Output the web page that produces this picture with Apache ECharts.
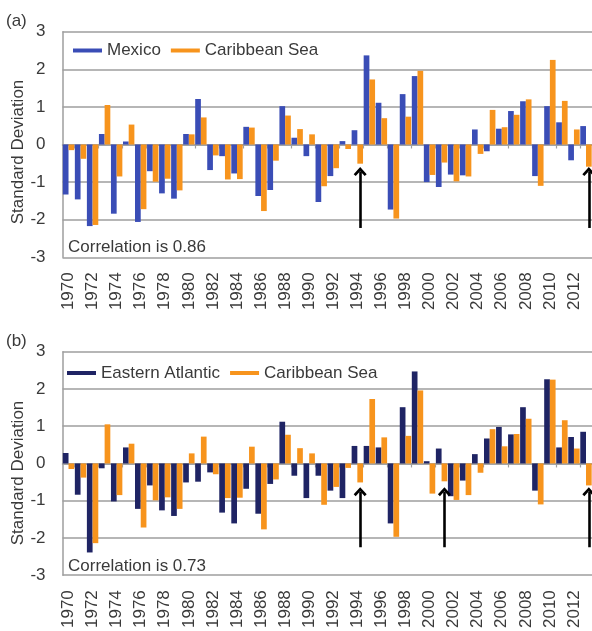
<!DOCTYPE html>
<html>
<head>
<meta charset="utf-8">
<script src="https://cdn.jsdelivr.net/npm/echarts@6/dist/echarts.min.js"></script>
<style>
html,body{margin:0;padding:0;background:#fff;}
#c{width:592px;height:631px;}
</style>
</head>
<body>
<div id="c"></div>
<script>
const years = ['1970','1971','1972','1973','1974','1975','1976','1977','1978','1979',
  '1980','1981','1982','1983','1984','1985','1986','1987','1988','1989',
  '1990','1991','1992','1993','1994','1995','1996','1997','1998','1999',
  '2000','2001','2002','2003','2004','2005','2006','2007','2008','2009',
  '2010','2011','2012','2013'];

const mexico = [-1.33,-1.46,-2.17,0.28,-1.84,0.08,-2.06,-0.71,-1.30,-1.44,
  0.28,1.21,-0.68,-0.31,-0.77,0.47,-1.37,-1.21,1.02,0.18,
  -0.31,-1.53,-0.84,0.09,0.38,2.37,1.11,-1.73,1.34,1.82,
  -1.00,-1.13,-0.80,-0.82,0.40,-0.18,0.42,0.89,1.15,-0.84,
  1.02,0.59,-0.42,0.49];

const easternAtlantic = [0.28,-0.84,-2.39,-0.13,-1.02,0.43,-1.22,-0.59,-1.26,-1.41,
  -0.51,-0.49,-0.24,-1.32,-1.61,-0.68,-1.35,-0.55,1.12,-0.33,
  -0.93,-0.33,-0.73,-0.93,0.47,0.47,0.43,-1.61,1.51,2.47,
  0.06,0.40,-0.88,-0.46,0.25,0.67,0.98,0.78,1.51,-0.73,
  2.26,0.43,0.71,0.85];

const caribbean = [-0.15,-0.38,-2.14,1.05,-0.85,0.53,-1.72,-0.99,-0.91,-1.22,
  0.27,0.72,-0.29,-0.93,-0.92,0.45,-1.77,-0.43,0.77,0.41,
  0.27,-1.11,-0.63,-0.12,-0.51,1.73,0.70,-1.97,0.74,1.96,
  -0.81,-0.48,-0.98,-0.85,-0.25,0.92,0.46,0.79,1.20,-1.10,
  2.25,1.16,0.40,-0.59];

const yMin = -3, yMax = 3, yStep = 1;

const arrowYearsA = ['1994','2013'];
const arrowYearsB = ['1994','2001','2013'];
const arrowTipA = -0.72, arrowBaseA = -2.22;
const arrowTipB = -0.76, arrowBaseB = -2.25;

const panelLabels = ['(a)','(b)'];
const correlationTexts = ['Correlation is 0.86','Correlation is 0.73'];
const yName = 'Standard Deviation';

const FONT = '"Liberation Sans", Arial, sans-serif';
const TXT = '#3a3a3a';
const GRIDC = '#9e9e9e';
const BLUE = '#3a4db6';
const NAVY = '#1f2464';
const ORANGE = '#f7941d';

const gridTops = [31.7, 351.7];
const gridH = 225.6;

const grids = gridTops.map(t => ({left: 62.5, top: t, width: 532, height: gridH}));

const xAxes = [];
const yAxes = [];
[0,1].forEach(g => {
  xAxes.push({
    type: 'category', gridIndex: g, data: years, position: 'bottom',
    boundaryGap: true,
    axisLine: {show: true, onZero: true, lineStyle: {color: GRIDC, width: 1.5}},
    axisTick: {show: true, length: 4, interval: (i) => i % 2 === 1, lineStyle: {color: GRIDC, width: 1.2}},
    axisLabel: {show: false},
    splitLine: {show: false}
  });
  xAxes.push({
    type: 'category', gridIndex: g, data: years, position: 'bottom',
    boundaryGap: true,
    axisLine: {show: false, onZero: false},
    axisTick: {show: false},
    axisLabel: {show: true, interval: 1, rotate: 90, fontSize: 17, margin: 15, color: TXT, fontFamily: FONT},
    splitLine: {show: false}
  });
  yAxes.push({
    type: 'value', gridIndex: g, min: yMin, max: yMax, interval: yStep,
    axisLine: {show: true, lineStyle: {color: GRIDC, width: 1.5}},
    axisTick: {show: false},
    axisLabel: {fontSize: 17, color: TXT, margin: 17, fontFamily: FONT},
    splitLine: {show: true, lineStyle: {color: GRIDC, width: 1.5}}
  });
});

const CHEVRON = 'path://M13,0 L26,13 L22,16.5 L13,7.5 L4,16.5 L0,13 Z';

function arrowLine(yearsList, base, tip) {
  return {
    silent: true,
    symbol: ['none', CHEVRON],
    symbolSize: [13, 9],
    lineStyle: {color: '#000', width: 2.6, type: 'solid'},
    itemStyle: {color: '#000'},
    label: {show: false},
    emphasis: {disabled: true},
    animation: false,
    data: yearsList.map(y => [{coord: [y, base]}, {coord: [y, tip]}])
  };
}

const barW = 5.7;
const series = [
  {name: 'Mexico', type: 'bar', xAxisIndex: 0, yAxisIndex: 0, data: mexico,
   barWidth: barW, barGap: '0%', itemStyle: {color: BLUE}},
  {name: 'Caribbean Sea', type: 'bar', xAxisIndex: 0, yAxisIndex: 0, data: caribbean,
   barWidth: barW, barGap: '0%', itemStyle: {color: ORANGE},
   markLine: arrowLine(arrowYearsA, arrowBaseA, arrowTipA)},
  {name: 'Eastern Atlantic', type: 'bar', xAxisIndex: 2, yAxisIndex: 1, data: easternAtlantic,
   barWidth: barW, barGap: '0%', itemStyle: {color: NAVY}},
  {name: 'Caribbean Sea', type: 'bar', xAxisIndex: 2, yAxisIndex: 1, data: caribbean,
   barWidth: barW, barGap: '0%', itemStyle: {color: ORANGE},
   markLine: arrowLine(arrowYearsB, arrowBaseB, arrowTipB)}
];

const legendCommon = {
  orient: 'horizontal', icon: 'rect', itemWidth: 29, itemHeight: 4, itemGap: 10,
  textStyle: {fontSize: 17, color: TXT, fontFamily: FONT}, padding: 0,
  selectedMode: false
};

const titleStyle = {fontSize: 17, fontWeight: 'normal', color: TXT, fontFamily: FONT};

const option = {
  backgroundColor: '#fff',
  animation: false,
  grid: grids,
  xAxis: xAxes,
  yAxis: yAxes,
  legend: [
    Object.assign({}, legendCommon, {data: ['Mexico','Caribbean Sea'], left: 73, top: 42}),
    Object.assign({}, legendCommon, {data: ['Eastern Atlantic','Caribbean Sea'], left: 67, top: 364.5})
  ],
  title: [
    {text: panelLabels[0], left: 6, top: 13, padding: 0, textStyle: titleStyle},
    {text: panelLabels[1], left: 6, top: 333, padding: 0, textStyle: titleStyle},
    {text: correlationTexts[0], left: 68, top: 239, padding: 0, textStyle: titleStyle},
    {text: correlationTexts[1], left: 68, top: 558, padding: 0, textStyle: titleStyle}
  ],
  graphic: [
    {type: 'text', x: 18.5, y: 152, rotation: Math.PI / 2,
     style: {text: yName, align: 'center', verticalAlign: 'middle', fontSize: 17, fill: TXT, fontFamily: FONT}},
    {type: 'text', x: 18.5, y: 473, rotation: Math.PI / 2,
     style: {text: yName, align: 'center', verticalAlign: 'middle', fontSize: 17, fill: TXT, fontFamily: FONT}}
  ],
  series: series
};

const chart = echarts.init(document.getElementById('c'), null, {renderer: 'canvas'});
chart.setOption(option);
</script>
</body>
</html>
